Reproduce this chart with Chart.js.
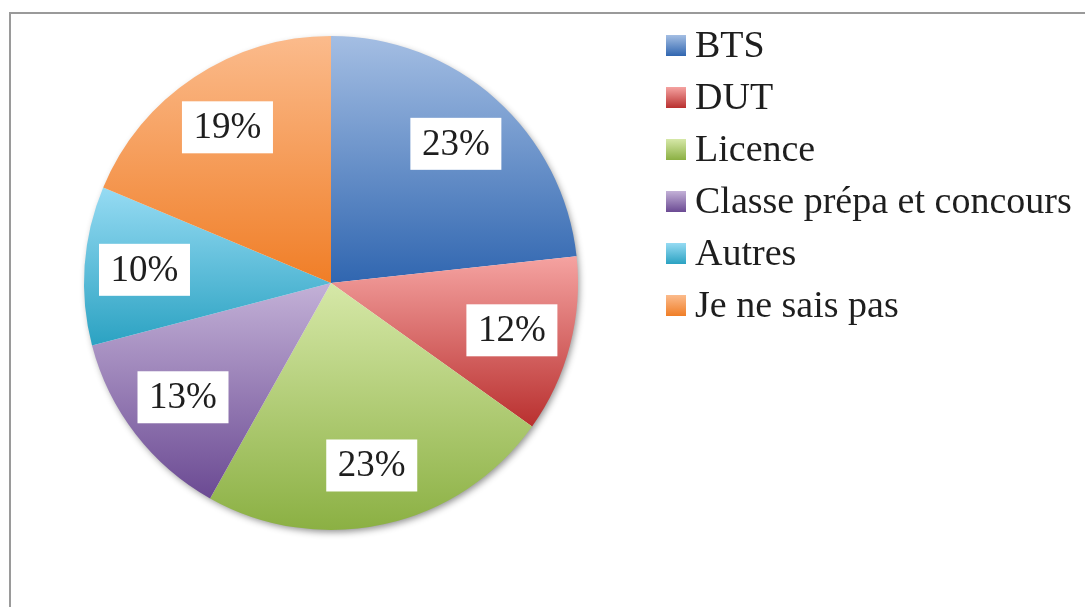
<!DOCTYPE html>
<html>
<head>
<meta charset="utf-8">
<script src="https://cdn.jsdelivr.net/npm/chart.js@4"></script>
<style>
  html, body { margin: 0; padding: 0; background: #fff; }
  #chart { display: block; }
</style>
</head>
<body>
<canvas id="chart" width="1085" height="607"></canvas>
<script>
// Répartition des choix d'orientation — camembert façon Excel.

const categories = ['BTS', 'DUT', 'Licence', 'Classe prépa et concours', 'Autres', 'Je ne sais pas'];
const shares = [23.3, 11.6, 23.3, 12.8, 10.4, 18.7];

// Each slice fades from a light tint (top) to the darker accent (bottom).
const topColors = ['#a4bee3', '#f5a3a1', '#d6e8a8', '#c3b1d7', '#96dbf3', '#fbbb8c'];
const bottomColors = ['#3066b0', '#b9302f', '#8bb043', '#6b4a93', '#2ba2c2', '#f07e27'];

const FONT = '"Liberation Serif", "Times New Roman", serif';
const total = shares.reduce((a, b) => a + b, 0);

// Vertical extent of a sector, so the gradient spans just that slice.
function sliceExtent(cy, r, a0, a1) {
  let yMin = Math.min(cy, cy + r * Math.sin(a0), cy + r * Math.sin(a1));
  let yMax = Math.max(cy, cy + r * Math.sin(a0), cy + r * Math.sin(a1));
  for (let k = -2; k <= 3; k++) {
    const a = Math.PI / 2 + k * Math.PI;
    if (a > a0 && a < a1) {
      const y = cy + r * Math.sin(a);
      yMin = Math.min(yMin, y);
      yMax = Math.max(yMax, y);
    }
  }
  return [yMin, yMax];
}

function sliceGradient(context) {
  const chart = context.chart;
  const area = chart.chartArea;
  const i = context.dataIndex;
  if (!area || i === undefined) return bottomColors[i || 0];
  const cx = (area.left + area.right) / 2;
  const cy = (area.top + area.bottom) / 2;
  const r = Math.min(area.width, area.height) / 2;
  let before = 0;
  for (let k = 0; k < i; k++) before += shares[k];
  const a0 = -Math.PI / 2 + (before / total) * Math.PI * 2;
  const a1 = a0 + (shares[i] / total) * Math.PI * 2;
  const [y0, y1] = sliceExtent(cy, r, a0, a1);
  const g = chart.ctx.createLinearGradient(0, y0, 0, y1);
  g.addColorStop(0, topColors[i]);
  g.addColorStop(1, bottomColors[i]);
  return g;
}

// Grey frame, soft drop shadow under the pie.
const framePlugin = {
  id: 'frame',
  beforeDraw(chart) {
    const ctx = chart.ctx;
    ctx.save();
    ctx.strokeStyle = '#9a9a9a';
    ctx.lineWidth = 2;
    ctx.strokeRect(10, 13, 1200, 700);
    ctx.restore();
  },
  beforeDatasetsDraw(chart) {
    const el = chart.getDatasetMeta(0).data[0];
    if (!el) return;
    const ctx = chart.ctx;
    ctx.save();
    ctx.shadowColor = 'rgba(0, 0, 0, 0.45)';
    ctx.shadowBlur = 7;
    ctx.shadowOffsetX = 2;
    ctx.shadowOffsetY = 3;
    ctx.fillStyle = '#ffffff';
    ctx.beginPath();
    ctx.arc(el.x, el.y, el.outerRadius - 1, 0, Math.PI * 2);
    ctx.fill();
    ctx.restore();
  },
};

// Percent labels in white boxes.
const labelPlugin = {
  id: 'pctLabels',
  afterDatasetsDraw(chart) {
    const ctx = chart.ctx;
    const meta = chart.getDatasetMeta(0);
    ctx.save();
    ctx.font = `37px ${FONT}`;
    ctx.textAlign = 'center';
    ctx.textBaseline = 'middle';
    meta.data.forEach((el, i) => {
      const mid = (el.startAngle + el.endAngle) / 2;
      const rr = el.outerRadius * 0.757;
      const x = el.x + rr * Math.cos(mid);
      const y = el.y + rr * Math.sin(mid);
      ctx.fillStyle = '#ffffff';
      ctx.fillRect(x - 45.5, y - 26, 91, 52);
      ctx.fillStyle = '#1e1e1e';
      ctx.fillText(Math.round((shares[i] / total) * 100) + '%', x, y + 1);
    });
    ctx.restore();
  },
};

// Legend on the right with gradient swatches.
const legendPlugin = {
  id: 'sideLegend',
  afterDraw(chart) {
    const ctx = chart.ctx;
    ctx.save();
    ctx.font = `38px ${FONT}`;
    ctx.textBaseline = 'alphabetic';
    categories.forEach((name, i) => {
      const top = 35 + i * 52;
      const g = ctx.createLinearGradient(0, top, 0, top + 21);
      g.addColorStop(0, topColors[i]);
      g.addColorStop(1, bottomColors[i]);
      ctx.fillStyle = g;
      ctx.fillRect(666, top, 20, 21);
      ctx.fillStyle = '#1e1e1e';
      ctx.fillText(name, 695, top + 22);
    });
    ctx.restore();
  },
};

new Chart(document.getElementById('chart'), {
  type: 'pie',
  data: {
    labels: categories,
    datasets: [{
      data: shares,
      backgroundColor: sliceGradient,
      borderWidth: 0,
      hoverOffset: 0,
    }],
  },
  options: {
    responsive: false,
    animation: false,
    layout: { padding: { left: 84, right: 507, top: 36, bottom: 77 } },
    plugins: {
      legend: { display: false },
      tooltip: { enabled: false },
    },
  },
  plugins: [framePlugin, labelPlugin, legendPlugin],
});
</script>
</body>
</html>
